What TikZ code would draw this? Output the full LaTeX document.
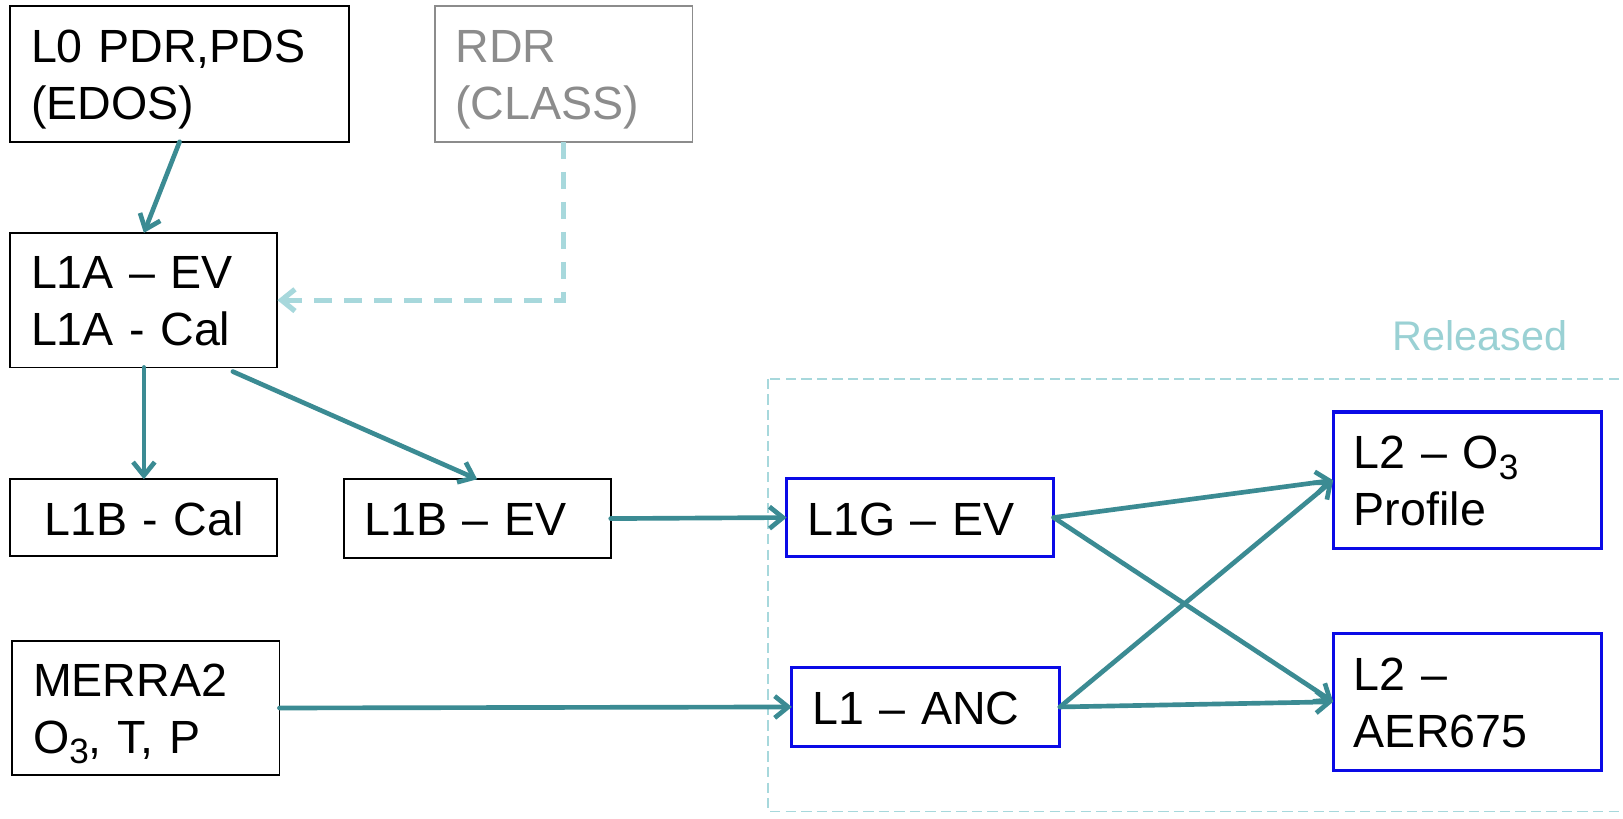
\documentclass[tikz,border=0pt]{standalone}
\usepackage{fontspec}
\setmainfont{Liberation Sans}
\usetikzlibrary{arrows.meta}
\definecolor{flowteal}{HTML}{3B8B93}
\definecolor{paleteal}{HTML}{A7D8DC}
\definecolor{relteal}{HTML}{9AD1D4}
\definecolor{prodblue}{HTML}{0A0AE6}
\definecolor{srcgray}{HTML}{8C8C8C}
% lowered subscript digit used in O3
\newcommand{\lowthree}{\raisebox{-10pt}{\fontsize{34}{34}\selectfont 3}}

\begin{document}
\begin{tikzpicture}[x=1pt,y=-1pt,
  prod/.style={draw=black, line width=1.8pt, anchor=north west,
    inner xsep=20pt, inner ysep=0pt, outer sep=0pt, align=left,
    font=\fontsize{45}{55}\selectfont},
  srcbox/.style={prod, draw=srcgray, text=srcgray},
  relbox/.style={prod, draw=prodblue, line width=3pt},
  flow/.style={draw=flowteal, line width=4.5pt, line cap=round,
    -{Straight Barb[length=13pt,width=21pt]}},
  feed/.style={draw=paleteal, line width=5pt, dash pattern=on 17pt off 12pt,
    -{Straight Barb[length=13pt,width=21pt]}}
]
\useasboundingbox (0,0) rectangle (1568,791);
\fill[white] (0,0) rectangle (1568,791);

% released products frame (runs past the right edge)
\begin{scope}
  \clip (0,0) rectangle (1568,791);
  \draw[paleteal, line width=1.5pt, dash pattern=on 10pt off 5pt]
    (742,366) rectangle (1590,784);
\end{scope}
\node[anchor=base west, text=relteal, inner sep=0pt,
  font=\fontsize{40}{48}\selectfont] (released) at (1345,339) {Released};

% data product boxes
\node[prod, text width=287pt, text height=54pt, text depth=77pt] (l0) at (10,6)
  {L0 PDR,PDS\\(EDOS)};
\node[srcbox, text width=209pt, text height=54pt, text depth=77pt] (rdr) at (420,6)
  {RDR\\(CLASS)};
\node[prod, text width=218pt, text height=54pt, text depth=76pt] (l1a) at (10,225)
  {L1A – EV\\L1A - Cal};
\node[prod, align=center, text width=218pt, text height=54pt, text depth=20pt] (l1bcal) at (10,463)
  {L1B - Cal};
\node[prod, text width=218pt, text height=54pt, text depth=22pt] (l1bev) at (332,463)
  {L1B – EV};
\node[prod, text width=218pt, text height=54pt, text depth=76pt] (merra) at (12,619)
  {MERRA2\\O\lowthree, T, P};
\node[relbox, text width=218pt, text height=55pt, text depth=21pt] (l1g) at (760,462)
  {L1G – EV};
\node[relbox, text width=219pt, text height=55pt, text depth=21pt] (l1anc) at (765,645)
  {L1 – ANC};
\node[relbox, text width=219pt, text height=55pt, text depth=77pt] (l2o3) at (1288,398)
  {L2 – O\lowthree\\Profile};
\node[relbox, text width=219pt, text height=55pt, text depth=77pt] (l2aer) at (1288,612)
  {L2 –\\AER675};

% processing flow
\draw[flow] (l0.south) -- (l1a.north);
\draw[feed] (rdr.south) |- (l1a.east);
\draw[flow] (l1a.south) -- (l1bcal.north);
\draw[flow] ([xshift=86pt,yshift=-4pt]l1a.south) -- (l1bev.north);
\draw[flow] (l1bev.east) -- (l1g.west);
\draw[flow] (merra.east) -- (l1anc.west);
\draw[flow] (l1g.east) -- (l2o3.west);
\draw[flow] (l1g.east) -- (l2aer.west);
\draw[flow] (l1anc.east) -- (l2o3.west);
\draw[flow] (l1anc.east) -- (l2aer.west);
\end{tikzpicture}
\end{document}
